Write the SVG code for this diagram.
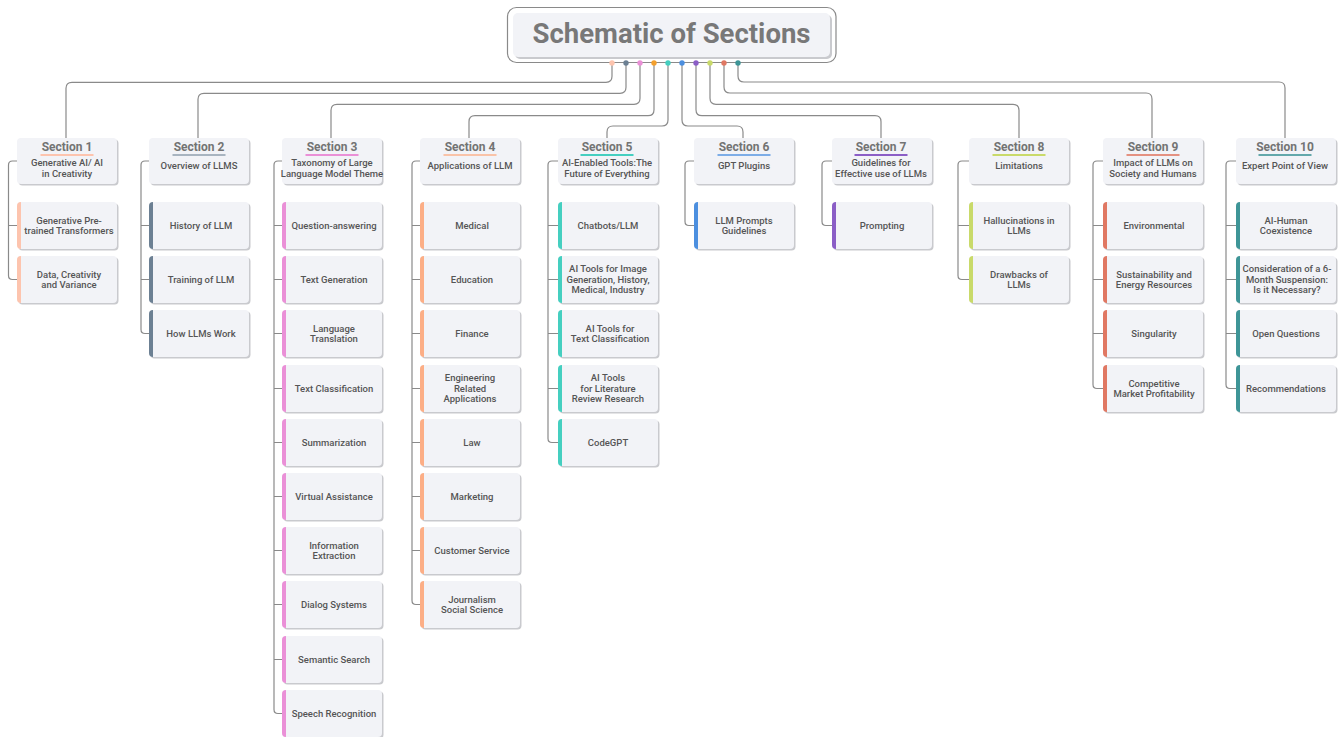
<svg xmlns="http://www.w3.org/2000/svg" width="1340" height="737" viewBox="0 0 1340 737">
<style>
.bg{fill:#ffffff}
.con{fill:none;stroke:#8a8a8a;stroke-width:1.2}
.sh{fill:#c9cace}
.box{fill:#f2f3f7}
.ttl{font-family:Roboto,"Liberation Sans",sans-serif;font-weight:700;font-size:28px;fill:#787878;text-anchor:middle}
.sec{font-family:Roboto,"Liberation Sans",sans-serif;font-weight:700;font-size:12px;fill:#737373;text-anchor:middle}
.sub{font-family:Roboto,"Liberation Sans",sans-serif;font-weight:500;font-size:9.5px;fill:#555555;text-anchor:middle}
.lbl{font-family:Roboto,"Liberation Sans",sans-serif;font-weight:500;font-size:9.5px;fill:#555555;text-anchor:middle}
.k1{fill:#fdc4ae}.k2{fill:#6c8093}.k3{fill:#ea90d7}.k4{fill:#fcae86}.k5{fill:#45cfc0}
.k6{fill:#4c8fdf}.k7{fill:#8b5ec6}.k8{fill:#c9da6a}.k9{fill:#e07863}.k10{fill:#3e9597}
</style>
<rect class="bg" x="0" y="0" width="1340" height="737"/>

<g id="connectors">
<path class="con" d="M612,63 V76.3 Q612,82.3 606,82.3 H72 Q66,82.3 66,88.3 V138"/>
<path class="con" d="M626,63 V87.3 Q626,93.3 620,93.3 H204 Q198,93.3 198,99.3 V138"/>
<path class="con" d="M640,63 V98.3 Q640,104.3 634,104.3 H337 Q331,104.3 331,110.3 V138"/>
<path class="con" d="M654,63 V109.7 Q654,115.7 648,115.7 H475 Q469,115.7 469,121.7 V138"/>
<path class="con" d="M668,63 V120 Q668,126 662,126 H613 Q607,126 607,132 V138"/>
<path class="con" d="M682,63 V120 Q682,126 688,126 H737 Q743,126 743,132 V138"/>
<path class="con" d="M696,63 V109.7 Q696,115.7 702,115.7 H875 Q881,115.7 881,121.7 V138"/>
<path class="con" d="M710,63 V98.3 Q710,104.3 716,104.3 H1013 Q1019,104.3 1019,110.3 V138"/>
<path class="con" d="M724,63 V87 Q724,93 730,93 H1146 Q1152,93 1152,99 V138"/>
<path class="con" d="M738,63 V76 Q738,82 744,82 H1279 Q1285,82 1285,88 V138"/>
<!-- branches -->
<path class="con" d="M17,161 H12.5 Q8.5,161 8.5,165 V275.5 Q8.5,279.5 12.5,279.5 H17 M8.5,225.5 H17"/>
<path class="con" d="M149,161 H145 Q141,161 141,165 V329.5 Q141,333.5 145,333.5 H149 M141,225.5 H149 M141,279.5 H149"/>
<path class="con" d="M282,161 H278 Q274,161 274,165 V709.5 Q274,713.5 278,713.5 H282 M274,225.5 H282 M274,279.5 H282 M274,333.5 H282 M274,388.5 H282 M274,442.5 H282 M274,496.5 H282 M274,550.5 H282 M274,604.5 H282 M274,659.5 H282"/>
<path class="con" d="M420,161 H416 Q412,161 412,165 V600.5 Q412,604.5 416,604.5 H420 M412,225.5 H420 M412,279.5 H420 M412,333.5 H420 M412,388.5 H420 M412,442.5 H420 M412,496.5 H420 M412,550.5 H420"/>
<path class="con" d="M558,161 H552 Q548,161 548,165 V438.5 Q548,442.5 552,442.5 H558 M548,225.5 H558 M548,279.5 H558 M548,333.5 H558 M548,388.5 H558"/>
<path class="con" d="M694,161 H689 Q685,161 685,165 V221.5 Q685,225.5 689,225.5 H694"/>
<path class="con" d="M832,161 H826 Q822,161 822,165 V221.5 Q822,225.5 826,225.5 H832"/>
<path class="con" d="M969,161 H962 Q958,161 958,165 V275.5 Q958,279.5 962,279.5 H969 M958,225.5 H969"/>
<path class="con" d="M1103,161 H1097 Q1093,161 1093,165 V384.5 Q1093,388.5 1097,388.5 H1103 M1093,225.5 H1103 M1093,279.5 H1103 M1093,333.5 H1103"/>
<path class="con" d="M1236,161 H1230 Q1226,161 1226,165 V384.5 Q1226,388.5 1230,388.5 H1236 M1226,225.5 H1236 M1226,279.5 H1236 M1226,333.5 H1236"/>
</g>

<g id="title">
<rect x="507.5" y="7.5" width="328.5" height="55" rx="9" fill="#ffffff" stroke="#8a8a8a" stroke-width="1.2"/>
<rect class="sh" x="515" y="15" width="317" height="44" rx="5"/>
<rect class="box" x="513" y="13" width="317" height="44" rx="5"/>
<text class="ttl" x="671.5" y="43" textLength="278" lengthAdjust="spacingAndGlyphs">Schematic of Sections</text>
<circle cx="612" cy="63" r="2.7" class="k1"/>
<circle cx="626" cy="63" r="2.7" class="k2"/>
<circle cx="640" cy="63" r="2.7" class="k3"/>
<circle cx="654" cy="63" r="2.7" fill="#f4a02e"/>
<circle cx="668" cy="63" r="2.7" class="k5"/>
<circle cx="682" cy="63" r="2.7" class="k6"/>
<circle cx="696" cy="63" r="2.7" class="k7"/>
<circle cx="710" cy="63" r="2.7" class="k8"/>
<circle cx="724" cy="63" r="2.7" class="k9"/>
<circle cx="738" cy="63" r="2.7" class="k10"/>
</g>

<!-- Section 1 -->
<g id="s1">
<rect class="sh" x="18.5" y="139.5" width="100" height="46" rx="4"/>
<rect class="box" x="17" y="138" width="100" height="46" rx="4"/>
<text class="sec" x="67" y="151">Section 1</text>
<rect class="k1" x="40.5" y="154" width="53" height="2"/>
<text class="sub" x="67" y="166.3">Generative AI/ AI</text>
<text class="sub" x="67" y="177">in Creativity</text>
</g>
<g id="s1c1"><rect class="sh" x="18.5" y="203.5" width="100" height="47" rx="4"/><rect class="box" x="17" y="202" width="100" height="47" rx="4"/><path class="k1" d="M21,202 V249 A4,4 0 0 1 17,245 V206 A4,4 0 0 1 21,202 Z"/><text class="lbl" x="69" y="223.5">Generative Pre-</text><text class="lbl" x="69" y="234">trained Transformers</text></g>
<g id="s1c2"><rect class="sh" x="18.5" y="257.5" width="100" height="47" rx="4"/><rect class="box" x="17" y="256" width="100" height="47" rx="4"/><path class="k1" d="M21,256 V303 A4,4 0 0 1 17,299 V260 A4,4 0 0 1 21,256 Z"/><text class="lbl" x="69" y="277.5">Data, Creativity</text><text class="lbl" x="69" y="288">and Variance</text></g>

<!-- Section 2 -->
<g id="s2">
<rect class="sh" x="150.5" y="139.5" width="100" height="46" rx="4"/>
<rect class="box" x="149" y="138" width="100" height="46" rx="4"/>
<text class="sec" x="199" y="151">Section 2</text>
<rect class="k2" x="172.5" y="154" width="53" height="2" opacity="0.55"/>
<text class="sub" x="199" y="169">Overview of LLMS</text>
</g>
<g id="s2c1"><rect class="sh" x="150.5" y="203.5" width="100" height="47" rx="4"/><rect class="box" x="149" y="202" width="100" height="47" rx="4"/><path class="k2" d="M153,202 V249 A4,4 0 0 1 149,245 V206 A4,4 0 0 1 153,202 Z"/><text class="lbl" x="201" y="228.8">History of LLM</text></g>
<g id="s2c2"><rect class="sh" x="150.5" y="257.5" width="100" height="47" rx="4"/><rect class="box" x="149" y="256" width="100" height="47" rx="4"/><path class="k2" d="M153,256 V303 A4,4 0 0 1 149,299 V260 A4,4 0 0 1 153,256 Z"/><text class="lbl" x="201" y="282.8">Training of LLM</text></g>
<g id="s2c3"><rect class="sh" x="150.5" y="311.5" width="100" height="47" rx="4"/><rect class="box" x="149" y="310" width="100" height="47" rx="4"/><path class="k2" d="M153,310 V357 A4,4 0 0 1 149,353 V314 A4,4 0 0 1 153,310 Z"/><text class="lbl" x="201" y="336.8">How LLMs Work</text></g>

<!-- Section 3 -->
<g id="s3">
<rect class="sh" x="283.5" y="139.5" width="100" height="46" rx="4"/>
<rect class="box" x="282" y="138" width="100" height="46" rx="4"/>
<text class="sec" x="332" y="151">Section 3</text>
<rect class="k3" x="305.5" y="154" width="53" height="2"/>
<text class="sub" x="332" y="166.3">Taxonomy of Large</text>
<text class="sub" x="332" y="177">Language Model Theme</text>
</g>
<g id="s3c1"><rect class="sh" x="283.5" y="203.5" width="100" height="47" rx="4"/><rect class="box" x="282" y="202" width="100" height="47" rx="4"/><path class="k3" d="M286,202 V249 A4,4 0 0 1 282,245 V206 A4,4 0 0 1 286,202 Z"/><text class="lbl" x="334" y="228.8">Question-answering</text></g>
<g id="s3c2"><rect class="sh" x="283.5" y="257.5" width="100" height="47" rx="4"/><rect class="box" x="282" y="256" width="100" height="47" rx="4"/><path class="k3" d="M286,256 V303 A4,4 0 0 1 282,299 V260 A4,4 0 0 1 286,256 Z"/><text class="lbl" x="334" y="282.8">Text Generation</text></g>
<g id="s3c3"><rect class="sh" x="283.5" y="311.5" width="100" height="47" rx="4"/><rect class="box" x="282" y="310" width="100" height="47" rx="4"/><path class="k3" d="M286,310 V357 A4,4 0 0 1 282,353 V314 A4,4 0 0 1 286,310 Z"/><text class="lbl" x="334" y="331.5">Language</text><text class="lbl" x="334" y="342">Translation</text></g>
<g id="s3c4"><rect class="sh" x="283.5" y="366.5" width="100" height="47" rx="4"/><rect class="box" x="282" y="365" width="100" height="47" rx="4"/><path class="k3" d="M286,365 V412 A4,4 0 0 1 282,408 V369 A4,4 0 0 1 286,365 Z"/><text class="lbl" x="334" y="391.8">Text Classification</text></g>
<g id="s3c5"><rect class="sh" x="283.5" y="420.5" width="100" height="47" rx="4"/><rect class="box" x="282" y="419" width="100" height="47" rx="4"/><path class="k3" d="M286,419 V466 A4,4 0 0 1 282,462 V423 A4,4 0 0 1 286,419 Z"/><text class="lbl" x="334" y="445.8">Summarization</text></g>
<g id="s3c6"><rect class="sh" x="283.5" y="474.5" width="100" height="47" rx="4"/><rect class="box" x="282" y="473" width="100" height="47" rx="4"/><path class="k3" d="M286,473 V520 A4,4 0 0 1 282,516 V477 A4,4 0 0 1 286,473 Z"/><text class="lbl" x="334" y="499.8">Virtual Assistance</text></g>
<g id="s3c7"><rect class="sh" x="283.5" y="528.5" width="100" height="47" rx="4"/><rect class="box" x="282" y="527" width="100" height="47" rx="4"/><path class="k3" d="M286,527 V574 A4,4 0 0 1 282,570 V531 A4,4 0 0 1 286,527 Z"/><text class="lbl" x="334" y="548.5">Information</text><text class="lbl" x="334" y="559">Extraction</text></g>
<g id="s3c8"><rect class="sh" x="283.5" y="582.5" width="100" height="47" rx="4"/><rect class="box" x="282" y="581" width="100" height="47" rx="4"/><path class="k3" d="M286,581 V628 A4,4 0 0 1 282,624 V585 A4,4 0 0 1 286,581 Z"/><text class="lbl" x="334" y="607.8">Dialog Systems</text></g>
<g id="s3c9"><rect class="sh" x="283.5" y="637.5" width="100" height="47" rx="4"/><rect class="box" x="282" y="636" width="100" height="47" rx="4"/><path class="k3" d="M286,636 V683 A4,4 0 0 1 282,679 V640 A4,4 0 0 1 286,636 Z"/><text class="lbl" x="334" y="662.8">Semantic Search</text></g>
<g id="s3c10"><rect class="sh" x="283.5" y="691.5" width="100" height="47" rx="4"/><rect class="box" x="282" y="690" width="100" height="47" rx="4"/><path class="k3" d="M286,690 V737 A4,4 0 0 1 282,733 V694 A4,4 0 0 1 286,690 Z"/><text class="lbl" x="334" y="716.8">Speech Recognition</text></g>

<!-- Section 4 -->
<g id="s4">
<rect class="sh" x="421.5" y="139.5" width="100" height="46" rx="4"/>
<rect class="box" x="420" y="138" width="100" height="46" rx="4"/>
<text class="sec" x="470" y="151">Section 4</text>
<rect class="k4" x="443.5" y="154" width="53" height="2" opacity="0.7"/>
<text class="sub" x="470" y="169">Applications of LLM</text>
</g>
<g id="s4c1"><rect class="sh" x="421.5" y="203.5" width="100" height="47" rx="4"/><rect class="box" x="420" y="202" width="100" height="47" rx="4"/><path class="k4" d="M424,202 V249 A4,4 0 0 1 420,245 V206 A4,4 0 0 1 424,202 Z"/><text class="lbl" x="472" y="228.8">Medical</text></g>
<g id="s4c2"><rect class="sh" x="421.5" y="257.5" width="100" height="47" rx="4"/><rect class="box" x="420" y="256" width="100" height="47" rx="4"/><path class="k4" d="M424,256 V303 A4,4 0 0 1 420,299 V260 A4,4 0 0 1 424,256 Z"/><text class="lbl" x="472" y="282.8">Education</text></g>
<g id="s4c3"><rect class="sh" x="421.5" y="311.5" width="100" height="47" rx="4"/><rect class="box" x="420" y="310" width="100" height="47" rx="4"/><path class="k4" d="M424,310 V357 A4,4 0 0 1 420,353 V314 A4,4 0 0 1 424,310 Z"/><text class="lbl" x="472" y="336.8">Finance</text></g>
<g id="s4c4"><rect class="sh" x="421.5" y="366.5" width="100" height="47" rx="4"/><rect class="box" x="420" y="365" width="100" height="47" rx="4"/><path class="k4" d="M424,365 V412 A4,4 0 0 1 420,408 V369 A4,4 0 0 1 424,365 Z"/><text class="lbl" x="470" y="381.3">Engineering</text><text class="lbl" x="470" y="391.8">Related</text><text class="lbl" x="470" y="402.3">Applications</text></g>
<g id="s4c5"><rect class="sh" x="421.5" y="420.5" width="100" height="47" rx="4"/><rect class="box" x="420" y="419" width="100" height="47" rx="4"/><path class="k4" d="M424,419 V466 A4,4 0 0 1 420,462 V423 A4,4 0 0 1 424,419 Z"/><text class="lbl" x="472" y="445.8">Law</text></g>
<g id="s4c6"><rect class="sh" x="421.5" y="474.5" width="100" height="47" rx="4"/><rect class="box" x="420" y="473" width="100" height="47" rx="4"/><path class="k4" d="M424,473 V520 A4,4 0 0 1 420,516 V477 A4,4 0 0 1 424,473 Z"/><text class="lbl" x="472" y="499.8">Marketing</text></g>
<g id="s4c7"><rect class="sh" x="421.5" y="528.5" width="100" height="47" rx="4"/><rect class="box" x="420" y="527" width="100" height="47" rx="4"/><path class="k4" d="M424,527 V574 A4,4 0 0 1 420,570 V531 A4,4 0 0 1 424,527 Z"/><text class="lbl" x="472" y="553.8">Customer Service</text></g>
<g id="s4c8"><rect class="sh" x="421.5" y="582.5" width="100" height="47" rx="4"/><rect class="box" x="420" y="581" width="100" height="47" rx="4"/><path class="k4" d="M424,581 V628 A4,4 0 0 1 420,624 V585 A4,4 0 0 1 424,581 Z"/><text class="lbl" x="472" y="602.5">Journalism</text><text class="lbl" x="472" y="613">Social Science</text></g>

<!-- Section 5 -->
<g id="s5">
<rect class="sh" x="559.5" y="139.5" width="100" height="46" rx="4"/>
<rect class="box" x="558" y="138" width="100" height="46" rx="4"/>
<text class="sec" x="607" y="151">Section 5</text>
<rect class="k5" x="580.5" y="154" width="53" height="2"/>
<text class="sub" x="607" y="166.3">AI-Enabled Tools:The</text>
<text class="sub" x="607" y="177">Future of Everything</text>
</g>
<g id="s5c1"><rect class="sh" x="559.5" y="203.5" width="100" height="47" rx="4"/><rect class="box" x="558" y="202" width="100" height="47" rx="4"/><path class="k5" d="M562,202 V249 A4,4 0 0 1 558,245 V206 A4,4 0 0 1 562,202 Z"/><text class="lbl" x="608" y="228.8">Chatbots/LLM</text></g>
<g id="s5c2"><rect class="sh" x="559.5" y="257.5" width="100" height="47" rx="4"/><rect class="box" x="558" y="256" width="100" height="47" rx="4"/><path class="k5" d="M562,256 V303 A4,4 0 0 1 558,299 V260 A4,4 0 0 1 562,256 Z"/><text class="lbl" x="608" y="272.3">AI Tools for Image</text><text class="lbl" x="608" y="282.8">Generation, History,</text><text class="lbl" x="608" y="293.3">Medical, Industry</text></g>
<g id="s5c3"><rect class="sh" x="559.5" y="311.5" width="100" height="47" rx="4"/><rect class="box" x="558" y="310" width="100" height="47" rx="4"/><path class="k5" d="M562,310 V357 A4,4 0 0 1 558,353 V314 A4,4 0 0 1 562,310 Z"/><text class="lbl" x="610" y="331.5">AI Tools for</text><text class="lbl" x="610" y="342">Text Classification</text></g>
<g id="s5c4"><rect class="sh" x="559.5" y="366.5" width="100" height="47" rx="4"/><rect class="box" x="558" y="365" width="100" height="47" rx="4"/><path class="k5" d="M562,365 V412 A4,4 0 0 1 558,408 V369 A4,4 0 0 1 562,365 Z"/><text class="lbl" x="608" y="381.3">AI Tools</text><text class="lbl" x="608" y="391.8">for Literature</text><text class="lbl" x="608" y="402.3">Review Research</text></g>
<g id="s5c5"><rect class="sh" x="559.5" y="420.5" width="100" height="47" rx="4"/><rect class="box" x="558" y="419" width="100" height="47" rx="4"/><path class="k5" d="M562,419 V466 A4,4 0 0 1 558,462 V423 A4,4 0 0 1 562,419 Z"/><text class="lbl" x="608" y="445.8">CodeGPT</text></g>

<!-- Section 6 -->
<g id="s6">
<rect class="sh" x="695.5" y="139.5" width="100" height="46" rx="4"/>
<rect class="box" x="694" y="138" width="100" height="46" rx="4"/>
<text class="sec" x="744" y="151">Section 6</text>
<rect class="k6" x="717.5" y="154" width="53" height="2" opacity="0.7"/>
<text class="sub" x="744" y="169">GPT Plugins</text>
</g>
<g id="s6c1"><rect class="sh" x="695.5" y="203.5" width="100" height="47" rx="4"/><rect class="box" x="694" y="202" width="100" height="47" rx="4"/><path class="k6" d="M698,202 V249 A4,4 0 0 1 694,245 V206 A4,4 0 0 1 698,202 Z"/><text class="lbl" x="744" y="223.5">LLM Prompts</text><text class="lbl" x="744" y="234">Guidelines</text></g>

<!-- Section 7 -->
<g id="s7">
<rect class="sh" x="833.5" y="139.5" width="100" height="46" rx="4"/>
<rect class="box" x="832" y="138" width="100" height="46" rx="4"/>
<text class="sec" x="881" y="151">Section 7</text>
<rect class="k7" x="854.5" y="154" width="53" height="2"/>
<text class="sub" x="881" y="166.3">Guidelines for</text>
<text class="sub" x="881" y="177">Effective use of LLMs</text>
</g>
<g id="s7c1"><rect class="sh" x="833.5" y="203.5" width="100" height="47" rx="4"/><rect class="box" x="832" y="202" width="100" height="47" rx="4"/><path class="k7" d="M836,202 V249 A4,4 0 0 1 832,245 V206 A4,4 0 0 1 836,202 Z"/><text class="lbl" x="882" y="228.8">Prompting</text></g>

<!-- Section 8 -->
<g id="s8">
<rect class="sh" x="970.5" y="139.5" width="100" height="46" rx="4"/>
<rect class="box" x="969" y="138" width="100" height="46" rx="4"/>
<text class="sec" x="1019" y="151">Section 8</text>
<rect class="k8" x="992.5" y="154" width="53" height="2"/>
<text class="sub" x="1019" y="169">Limitations</text>
</g>
<g id="s8c1"><rect class="sh" x="970.5" y="203.5" width="100" height="47" rx="4"/><rect class="box" x="969" y="202" width="100" height="47" rx="4"/><path class="k8" d="M973,202 V249 A4,4 0 0 1 969,245 V206 A4,4 0 0 1 973,202 Z"/><text class="lbl" x="1019" y="223.5">Hallucinations in</text><text class="lbl" x="1019" y="234">LLMs</text></g>
<g id="s8c2"><rect class="sh" x="970.5" y="257.5" width="100" height="47" rx="4"/><rect class="box" x="969" y="256" width="100" height="47" rx="4"/><path class="k8" d="M973,256 V303 A4,4 0 0 1 969,299 V260 A4,4 0 0 1 973,256 Z"/><text class="lbl" x="1019" y="277.5">Drawbacks of</text><text class="lbl" x="1019" y="288">LLMs</text></g>

<!-- Section 9 -->
<g id="s9">
<rect class="sh" x="1104.5" y="139.5" width="100" height="46" rx="4"/>
<rect class="box" x="1103" y="138" width="100" height="46" rx="4"/>
<text class="sec" x="1153" y="151">Section 9</text>
<rect class="k9" x="1126.5" y="154" width="53" height="2" opacity="0.8"/>
<text class="sub" x="1153" y="166.3">Impact of LLMs on</text>
<text class="sub" x="1153" y="177">Society and Humans</text>
</g>
<g id="s9c1"><rect class="sh" x="1104.5" y="203.5" width="100" height="47" rx="4"/><rect class="box" x="1103" y="202" width="100" height="47" rx="4"/><path class="k9" d="M1107,202 V249 A4,4 0 0 1 1103,245 V206 A4,4 0 0 1 1107,202 Z"/><text class="lbl" x="1154" y="228.8">Environmental</text></g>
<g id="s9c2"><rect class="sh" x="1104.5" y="257.5" width="100" height="47" rx="4"/><rect class="box" x="1103" y="256" width="100" height="47" rx="4"/><path class="k9" d="M1107,256 V303 A4,4 0 0 1 1103,299 V260 A4,4 0 0 1 1107,256 Z"/><text class="lbl" x="1154" y="277.5">Sustainability and</text><text class="lbl" x="1154" y="288">Energy Resources</text></g>
<g id="s9c3"><rect class="sh" x="1104.5" y="311.5" width="100" height="47" rx="4"/><rect class="box" x="1103" y="310" width="100" height="47" rx="4"/><path class="k9" d="M1107,310 V357 A4,4 0 0 1 1103,353 V314 A4,4 0 0 1 1107,310 Z"/><text class="lbl" x="1154" y="336.8">Singularity</text></g>
<g id="s9c4"><rect class="sh" x="1104.5" y="366.5" width="100" height="47" rx="4"/><rect class="box" x="1103" y="365" width="100" height="47" rx="4"/><path class="k9" d="M1107,365 V412 A4,4 0 0 1 1103,408 V369 A4,4 0 0 1 1107,365 Z"/><text class="lbl" x="1154" y="386.5">Competitive</text><text class="lbl" x="1154" y="397">Market Profitability</text></g>

<!-- Section 10 -->
<g id="s10">
<rect class="sh" x="1237.5" y="139.5" width="100" height="46" rx="4"/>
<rect class="box" x="1236" y="138" width="100" height="46" rx="4"/>
<text class="sec" x="1285" y="151">Section 10</text>
<rect class="k10" x="1258.5" y="154" width="53" height="2" opacity="0.8"/>
<text class="sub" x="1285" y="169">Expert Point of View</text>
</g>
<g id="s10c1"><rect class="sh" x="1237.5" y="203.5" width="100" height="47" rx="4"/><rect class="box" x="1236" y="202" width="100" height="47" rx="4"/><path class="k10" d="M1240,202 V249 A4,4 0 0 1 1236,245 V206 A4,4 0 0 1 1240,202 Z"/><text class="lbl" x="1286" y="223.5">AI-Human</text><text class="lbl" x="1286" y="234">Coexistence</text></g>
<g id="s10c2"><rect class="sh" x="1237.5" y="257.5" width="100" height="47" rx="4"/><rect class="box" x="1236" y="256" width="100" height="47" rx="4"/><path class="k10" d="M1240,256 V303 A4,4 0 0 1 1236,299 V260 A4,4 0 0 1 1240,256 Z"/><text class="lbl" x="1287" y="272.3">Consideration of a 6-</text><text class="lbl" x="1287" y="282.8">Month Suspension:</text><text class="lbl" x="1287" y="293.3">Is it Necessary?</text></g>
<g id="s10c3"><rect class="sh" x="1237.5" y="311.5" width="100" height="47" rx="4"/><rect class="box" x="1236" y="310" width="100" height="47" rx="4"/><path class="k10" d="M1240,310 V357 A4,4 0 0 1 1236,353 V314 A4,4 0 0 1 1240,310 Z"/><text class="lbl" x="1286" y="336.8">Open Questions</text></g>
<g id="s10c4"><rect class="sh" x="1237.5" y="366.5" width="100" height="47" rx="4"/><rect class="box" x="1236" y="365" width="100" height="47" rx="4"/><path class="k10" d="M1240,365 V412 A4,4 0 0 1 1236,408 V369 A4,4 0 0 1 1240,365 Z"/><text class="lbl" x="1286" y="391.8">Recommendations</text></g>
</svg>
